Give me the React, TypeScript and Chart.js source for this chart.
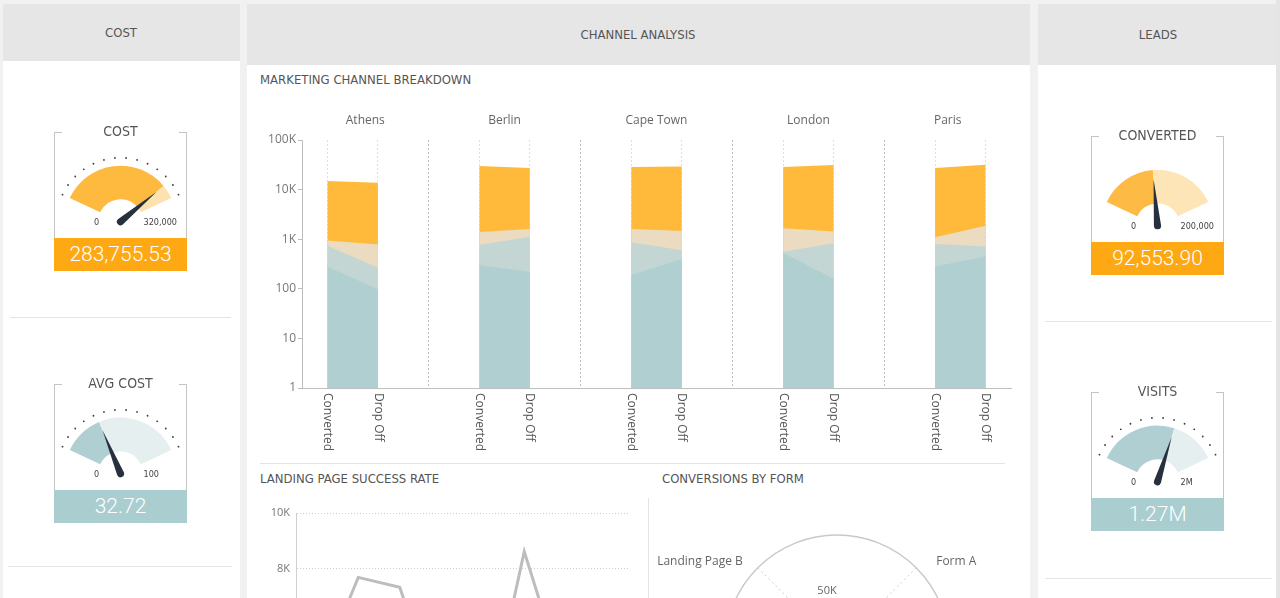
import React, { useEffect, useRef } from "react";
import { Chart, registerables } from "chart.js";

Chart.register(...registerables);

// ---------------- data ----------------
const cities = ["Athens", "Berlin", "Cape Town", "London", "Paris"];
const stages = ["Converted", "Drop Off"];
// values per city, in order [Converted, Drop Off]
const visitsSeries = [14900, 13800, 29900, 27200, 28500, 29300, 28500, 31200, 27200, 31600];
const engagedSeries = [940, 780, 1390, 1600, 1600, 1470, 1670, 1430, 1100, 1860];
const qualifiedSeries = [740, 265, 760, 1120, 870, 600, 560, 830, 800, 710];
const wonSeries = [280, 97, 300, 220, 190, 400, 530, 160, 280, 450];
const logTicks = [1, 10, 100, 1000, 10000, 100000];
const logTickLabels = ["1", "10", "100", "1K", "10K", "100K"];

const successLabels = ["Jan", "Feb", "Mar", "Apr", "May", "Jun", "Jul", "Aug"];
const successValues = [4100, 7700, 7350, 3000, 1830, 8620, 3880, 5000];

const formLabels = ["Form A", "Form B", "Landing Page A", "Landing Page B"];
const formValues = [38000, 24000, 30000, 41000];
const formTickLabel = "50K";
const formTickValue = 50000;

const gaugeTitles = ["COST", "AVG COST", "CONVERTED", "VISITS"];
const gaugeValues = [283755.53, 32.72, 92553.9, 1270000];
const gaugeMax = [320000, 100, 200000, 2000000];
const gaugeDisplay = ["283,755.53", "32.72", "92,553.90", "1.27M"];
const gaugeMinLabels = ["0", "0", "0", "0"];
const gaugeMaxLabels = ["320,000", "100", "200,000", "2M"];

// ---------------- styles ----------------
const SANS = "'Open Sans', 'Noto Sans', sans-serif";
const TITLE_FONT = "'Liberation Sans Narrow', 'DejaVu Sans Condensed', Roboto, sans-serif";
const VALUE_FONT = "Roboto, 'Liberation Sans', sans-serif";

const ORANGE = "#FFBA3C";
const BEIGE = "#EBDBC0";
const LIGHT_TEAL = "#C3D6D3";
const TEAL = "#B0CFD1";

const gaugeLayout = [
  { left: 54, top: 132, dots: true, fill: "#FDBA3F", rest: "#FDE2B0", box: "#FEA814" },
  { left: 54, top: 384, dots: true, fill: "#B0CFD2", rest: "#E5EFF0", box: "#AACDD0" },
  { left: 1091, top: 136, dots: false, fill: "#FDBA45", rest: "#FEE5B8", box: "#FEA814" },
  { left: 1091, top: 392, dots: true, fill: "#B0CFD2", rest: "#E5EFF0", box: "#AACDD0" },
];

// ---------------- helpers ----------------
function ChartBox({ make, left, top, width, height }: any) {
  const ref = useRef<HTMLCanvasElement>(null);
  useEffect(() => {
    const chart = new Chart(ref.current as HTMLCanvasElement, make());
    return () => chart.destroy();
  }, []);
  return (
    <canvas
      ref={ref}
      width={width}
      height={height}
      style={{ position: "absolute", left, top, width, height }}
    />
  );
}

function Txt({ x, y, children, size = 13, color = "#555", align = "center", font = TITLE_FONT, weight = 400 }: any) {
  const h = Math.round(size * 1.6);
  const style: any = {
    position: "absolute",
    top: y - h / 2,
    height: h,
    lineHeight: h + "px",
    fontSize: size,
    color,
    fontFamily: font,
    fontWeight: weight,
    whiteSpace: "nowrap",
  };
  if (align === "center") {
    style.left = x - 200;
    style.width = 400;
    style.textAlign = "center";
  } else {
    style.left = x;
  }
  return <div style={style}>{children}</div>;
}

function Rect({ x, y, w, h, bg }: any) {
  return <div style={{ position: "absolute", left: x, top: y, width: w, height: h, background: bg }} />;
}

// ---------------- main breakdown chart ----------------
const breakdownPoints = (vals: number[]) => {
  const pts: any[] = [];
  cities.forEach((_c, i) => {
    stages.forEach((_s, j) => pts.push({ x: 3 * i + 0.5 + j, y: vals[i * 2 + j] }));
    if (i < cities.length - 1) pts.push({ x: 3 * i + 2.5, y: null });
  });
  return pts;
};

const breakdownLabels = {
  id: "breakdownLabels",
  afterDraw(chart: any) {
    const { ctx, chartArea } = chart;
    const x = chart.scales.x;
    ctx.save();
    ctx.fillStyle = "#666";
    ctx.font = `12px ${SANS}`;
    ctx.textAlign = "center";
    ctx.textBaseline = "middle";
    cities.forEach((c, i) => {
      const a = Math.max(x.min, 3 * i - 0.5);
      const b = Math.min(x.max, 3 * i + 2.5);
      ctx.fillText(c, (x.getPixelForValue(a) + x.getPixelForValue(b)) / 2, chartArea.top - 19);
    });
    ctx.fillStyle = "#555";
    ctx.textAlign = "left";
    cities.forEach((_c, i) =>
      stages.forEach((s, j) => {
        const px = x.getPixelForValue(3 * i + 0.5 + j);
        ctx.save();
        ctx.translate(px, chartArea.bottom + 5);
        ctx.rotate(Math.PI / 2);
        ctx.fillText(s, 0, 0);
        ctx.restore();
      })
    );
    ctx.restore();
  },
};

const makeBreakdown = () => {
  const positions: number[] = [];
  cities.forEach((_c, i) => {
    positions.push(3 * i + 0.5, 3 * i + 1.5);
    if (i < cities.length - 1) positions.push(3 * i + 2.5);
  });
  const area = (label: string, vals: number[], color: string) => ({
    label,
    data: breakdownPoints(vals),
    backgroundColor: color,
    borderColor: color,
    borderWidth: 0,
    pointRadius: 0,
    fill: "start",
    tension: 0,
    spanGaps: false,
  });
  return {
    type: "line",
    data: {
      datasets: [
        area("Won", wonSeries, TEAL),
        area("Qualified", qualifiedSeries, LIGHT_TEAL),
        area("Engaged", engagedSeries, BEIGE),
        area("Visits", visitsSeries, ORANGE),
      ],
    },
    options: {
      animation: false,
      responsive: false,
      layout: { padding: { top: 40, right: 9, bottom: 72, left: 0 } },
      plugins: { legend: { display: false }, tooltip: { enabled: false } },
      scales: {
        x: {
          type: "linear",
          min: 0,
          max: 14,
          afterBuildTicks: (s: any) => {
            s.ticks = positions.map((v) => ({ value: v }));
          },
          afterFit: (s: any) => {
            s.height = 0;
          },
          ticks: { display: false },
          grid: {
            drawTicks: false,
            color: (ctx: any) =>
              ctx.tick && Math.abs((ctx.tick.value - 2.5) % 3) < 0.01 ? "#bdbdbd" : "#dedede",
          },
          border: { display: true, color: "#bdbdbd", dash: [2, 2] },
        },
        y: {
          type: "logarithmic",
          min: 1,
          max: 100000,
          afterBuildTicks: (s: any) => {
            s.ticks = logTicks.map((v) => ({ value: v }));
          },
          afterFit: (s: any) => {
            s.width = 47;
          },
          ticks: {
            callback: (v: any) => logTickLabels[logTicks.indexOf(Number(v))] ?? "",
            color: "#777",
            font: { size: 12, family: SANS },
            padding: 2,
          },
          grid: { drawOnChartArea: false, drawTicks: true, tickLength: 4, color: "#bdbdbd" },
          border: { display: true, color: "#bdbdbd" },
        },
      },
    },
    plugins: [breakdownLabels],
  };
};

// ---------------- landing page success line ----------------
const makeSuccess = () => ({
  type: "line",
  data: {
    labels: successLabels,
    datasets: [
      {
        data: successValues,
        borderColor: "#BDBDBD",
        borderWidth: 3,
        pointRadius: 0,
        fill: false,
        tension: 0,
      },
    ],
  },
  options: {
    animation: false,
    responsive: false,
    layout: { padding: { top: 18, right: 7, bottom: 12, left: 0 } },
    plugins: { legend: { display: false }, tooltip: { enabled: false } },
    scales: {
      x: {
        offset: true,
        grid: { display: false },
        border: { display: false },
        ticks: { color: "#777", font: { size: 11, family: SANS } },
        afterFit: (s: any) => {
          s.height = 20;
        },
      },
      y: {
        min: 0,
        max: 10000,
        ticks: {
          stepSize: 2000,
          callback: (v: any) => (Number(v) === 0 ? "0" : Number(v) / 1000 + "K"),
          color: "#777",
          font: { size: 11, family: SANS },
          padding: 6,
        },
        grid: { color: "#cccccc", drawTicks: false },
        border: { display: true, color: "#d0d0d0", dash: [1, 2] },
        afterFit: (s: any) => {
          s.width = 41;
        },
      },
    },
  },
});

// ---------------- conversions by form radar ----------------
const formLabelPlugin = {
  id: "formLabelPlugin",
  afterDraw(chart: any) {
    const r = chart.scales.r;
    const ctx = chart.ctx;
    ctx.save();
    ctx.font = `12px ${SANS}`;
    ctx.fillStyle = "#666";
    ctx.textBaseline = "middle";
    formLabels.forEach((lab, i) => {
      const p = r.getPointPosition(i, r.drawingArea);
      const right = p.x > r.xCenter;
      const up = p.y < r.yCenter;
      ctx.textAlign = right ? "left" : "right";
      ctx.fillText(lab, p.x + (right ? 20 : -15), p.y + (up ? -6 : 6));
    });
    ctx.font = `11px ${SANS}`;
    ctx.textAlign = "center";
    ctx.fillText(formTickLabel, r.xCenter - 10, r.yCenter - r.getDistanceFromCenterForValue(formTickValue));
    ctx.restore();
  },
};

const makeForm = () => ({
  type: "radar",
  data: {
    labels: formLabels,
    datasets: [
      {
        data: formValues,
        backgroundColor: "rgba(176,207,209,0.7)",
        borderColor: "#9cc2c5",
        borderWidth: 1,
        pointRadius: 0,
      },
    ],
  },
  options: {
    animation: false,
    responsive: false,
    layout: { padding: 10 },
    plugins: { legend: { display: false }, tooltip: { enabled: false } },
    scales: {
      r: {
        min: 0,
        max: 100000,
        startAngle: 45,
        ticks: { display: false, stepSize: 100000 },
        grid: { circular: true, color: "#c9c9c9", lineWidth: 1.5 },
        angleLines: { color: "#cfcfcf", borderDash: [2, 3] },
        pointLabels: { display: false },
      },
    },
  },
  plugins: [formLabelPlugin],
});

// ---------------- gauges ----------------
const gaugeDeco = {
  id: "gaugeDeco",
  afterDraw(chart: any, _args: any, opts: any) {
    const arc = chart.getDatasetMeta(0).data[0];
    if (!arc) return;
    const { x: cx, y: cy, outerRadius } = arc.getProps(["x", "y", "outerRadius"], true);
    const ctx = chart.ctx;
    const toRad = (d: number) => ((d - 90) * Math.PI) / 180;
    ctx.save();
    if (opts.dots) {
      ctx.fillStyle = "#3a3a3a";
      for (let k = 0; k < 14; k++) {
        const a = toRad(-65 + 10 * k);
        ctx.beginPath();
        ctx.arc(cx + (outerRadius + 8) * Math.cos(a), cy + (outerRadius + 8) * Math.sin(a), 0.9, 0, 2 * Math.PI);
        ctx.fill();
      }
    }
    const a = toRad(-65 + 130 * Math.min(1, opts.value / opts.max));
    const tipR = outerRadius - 9;
    const w = 3.6;
    ctx.fillStyle = "#27313d";
    ctx.beginPath();
    ctx.moveTo(cx + tipR * Math.cos(a), cy + tipR * Math.sin(a));
    ctx.lineTo(cx - w * Math.sin(a), cy + w * Math.cos(a));
    ctx.arc(cx, cy, w, a + Math.PI / 2, a - Math.PI / 2);
    ctx.closePath();
    ctx.fill();
    ctx.font = `9px ${TITLE_FONT}`;
    ctx.fillStyle = "#444";
    ctx.textBaseline = "middle";
    ctx.textAlign = "center";
    ctx.fillText(opts.minLabel, cx - 24, cy + 1);
    ctx.textAlign = "left";
    ctx.fillText(opts.maxLabel, cx + 23, cy + 1);
    ctx.restore();
  },
};

function Gauge({ i }: any) {
  const g = gaugeLayout[i];
  const makeGauge = () => ({
    type: "doughnut",
    data: {
      labels: ["value", "rest"],
      datasets: [
        {
          data: [gaugeValues[i], Math.max(0, gaugeMax[i] - gaugeValues[i])],
          backgroundColor: [g.fill, g.rest],
          borderWidth: 0,
        },
      ],
    },
    options: {
      animation: false,
      responsive: false,
      radius: 56,
      cutout: "40%",
      rotation: -65,
      circumference: 130,
      plugins: {
        legend: { display: false },
        tooltip: { enabled: false },
        gaugeDeco: {
          value: gaugeValues[i],
          max: gaugeMax[i],
          dots: g.dots,
          minLabel: gaugeMinLabels[i],
          maxLabel: gaugeMaxLabels[i],
        },
      },
    },
    plugins: [gaugeDeco],
  });
  const line = "#c4c4c4";
  return (
    <div style={{ position: "absolute", left: g.left, top: g.top, width: 133, height: 140 }}>
      <Rect x={0} y={0} w={1} h={106} bg={line} />
      <Rect x={132} y={0} w={1} h={106} bg={line} />
      <Rect x={0} y={0} w={8} h={1} bg={line} />
      <Rect x={125} y={0} w={8} h={1} bg={line} />
      <Txt x={66.5} y={-1} size={14} color="#555">
        {gaugeTitles[i]}
      </Txt>
      <ChartBox make={makeGauge} left={0} top={8} width={133} height={98} />
      <div
        style={{
          position: "absolute",
          left: 0,
          top: 106,
          width: 133,
          height: 33,
          background: g.box,
          color: "#fff",
          fontSize: 21,
          lineHeight: "33px",
          textAlign: "center",
          fontFamily: VALUE_FONT,
          fontWeight: 300,
        }}
      >
        {gaugeDisplay[i]}
      </div>
    </div>
  );
}

// ---------------- app ----------------
export default function App() {
  return (
    <div
      style={{
        position: "fixed",
        left: 0,
        top: 0,
        width: 1280,
        height: 598,
        overflow: "hidden",
        background: "#F1F1F1",
        fontFamily: SANS,
      }}
    >
      {/* panels */}
      <Rect x={3} y={4} w={237} h={600} bg="#fff" />
      <Rect x={3} y={4} w={237} h={57} bg="#E6E6E6" />
      <Rect x={247} y={4} w={783} h={600} bg="#fff" />
      <Rect x={247} y={4} w={783} h={61} bg="#E6E6E6" />
      <Rect x={1038} y={4} w={238} h={600} bg="#fff" />
      <Rect x={1038} y={4} w={238} h={61} bg="#E6E6E6" />
      <Rect x={1276} y={0} w={4} h={598} bg="#E4E4E4" />

      <Txt x={121} y={32} size={13} color="#555">COST</Txt>
      <Txt x={638} y={34} size={13} color="#555">CHANNEL ANALYSIS</Txt>
      <Txt x={1158} y={34} size={13} color="#555">LEADS</Txt>

      {/* separators */}
      <Rect x={10} y={317} w={221} h={1} bg="#E4E4E4" />
      <Rect x={8} y={566} w={224} h={1} bg="#E4E4E4" />
      <Rect x={1045} y={321} w={227} h={1} bg="#E4E4E4" />
      <Rect x={1045} y={578} w={227} h={1} bg="#E4E4E4" />
      <Rect x={260} y={463} w={745} h={1} bg="#E4E4E4" />
      <Rect x={648} y={498} w={1} h={120} bg="#E4E4E4" />

      {/* center titles */}
      <Txt x={260} y={79} size={13} align="left" color="#555">MARKETING CHANNEL BREAKDOWN</Txt>
      <Txt x={260} y={478} size={13} align="left" color="#555">LANDING PAGE SUCCESS RATE</Txt>
      <Txt x={662} y={478} size={13} align="left" color="#555">CONVERSIONS BY FORM</Txt>

      <ChartBox make={makeBreakdown} left={255} top={100} width={765} height={360} />
      <ChartBox make={makeSuccess} left={255} top={495} width={380} height={330} />
      <ChartBox make={makeForm} left={637} top={525} width={400} height={244} />

      <Gauge i={0} />
      <Gauge i={1} />
      <Gauge i={2} />
      <Gauge i={3} />
    </div>
  );
}
